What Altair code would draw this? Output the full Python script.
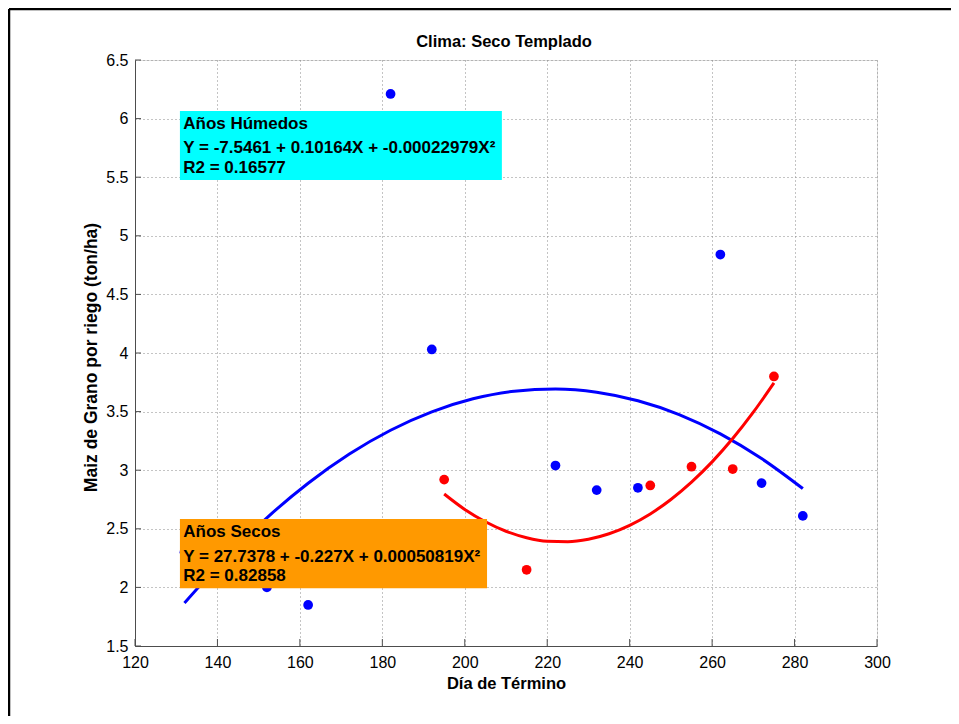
import altair as alt
import pandas as pd

FONT = "Liberation Sans"

# ---- data ----
blue_x = [132, 152, 162, 182, 192, 222, 232, 242, 262, 272, 282]
blue_y = [2.30, 2.00, 1.85, 6.21, 4.03, 3.04, 2.83, 2.85, 4.84, 2.89, 2.61]

red_x = [195, 215, 245, 255, 265, 275]
red_y = [2.92, 2.15, 2.87, 3.03, 3.01, 3.80]

blue_fit_x = [132, 142, 152, 162, 172, 182, 192, 202, 212, 222, 232, 242, 252, 262, 272, 282]
blue_fit_y = [1.867, 2.253, 2.594, 2.889, 3.138, 3.341, 3.498, 3.609, 3.674, 3.693, 3.666,
              3.593, 3.475, 3.310, 3.099, 2.843]

red_fit_x = [195, 200, 205, 210, 215, 220, 225, 230, 235, 240, 245, 250, 255, 260, 265, 270, 275]
red_fit_y = [2.797, 2.665, 2.560, 2.479, 2.424, 2.394, 2.390, 2.411, 2.458, 2.530, 2.627,
             2.750, 2.898, 3.071, 3.270, 3.495, 3.745]

x_ticks = [120, 140, 160, 180, 200, 220, 240, 260, 280, 300]
y_ticks = [1.5, 2, 2.5, 3, 3.5, 4, 4.5, 5, 5.5, 6, 6.5]

chart_title = "Clima: Seco Templado"
x_title = "Día de Término"
y_title = "Maiz de Grano por riego (ton/ha)"

box_names = ["Años Húmedos", "Años Secos"]
box_x0 = [130.9, 130.9]
box_x1 = [209.0, 205.4]
box_y0 = [5.476, 1.992]
box_y1 = [6.065, 2.584]
box_colors = ["#00FFFF", "#FF9900"]

text_lines = [
    "Años Húmedos",
    "Y = -7.5461 + 0.10164X + -0.00022979X²",
    "R2 = 0.16577",
    "Años Secos",
    "Y = 27.7378 + -0.227X + 0.00050819X²",
    "R2 = 0.82858",
]
text_x = [131.7, 131.7, 131.7, 131.7, 131.7, 131.7]
text_y = [5.911, 5.706, 5.536, 2.433, 2.214, 2.057]

# ---- tables ----
pts = pd.DataFrame({
    "x": blue_x + red_x,
    "y": blue_y + red_y,
    "g": ["h"] * len(blue_x) + ["s"] * len(red_x),
})
fits = pd.DataFrame({
    "x": blue_fit_x + red_fit_x,
    "y": blue_fit_y + red_fit_y,
    "g": ["h"] * len(blue_fit_x) + ["s"] * len(red_fit_x),
})
boxes = pd.DataFrame({"name": box_names, "x0": box_x0, "x1": box_x1,
                      "y0": box_y0, "y1": box_y1, "c": box_colors})
texts = pd.DataFrame({"t": text_lines, "x": text_x, "y": text_y})
xt = pd.DataFrame({"x": x_ticks})
yt = pd.DataFrame({"y": y_ticks})

xs = alt.Scale(domain=[120, 300], nice=False, zero=False)
ys = alt.Scale(domain=[1.5, 6.5], nice=False, zero=False)
col = alt.Scale(domain=["h", "s"], range=["#0000FF", "#FF0000"])

x_axis = alt.Axis(values=x_ticks, title=x_title, titleFont=FONT, titleFontSize=16.5,
                  titleFontWeight="bold", titleColor="black", titleY=42, titleBaseline="alphabetic",
                  labelFont=FONT, labelFontSize=16, labelColor="black", labelPadding=8,
                  ticks=False, domainColor="#4d4d4d", domainWidth=1,
                  grid=True, gridDash=[1, 3], gridColor="#888888", gridWidth=1, labelFlush=False)
y_axis = alt.Axis(values=y_ticks, format=".1~f", title=y_title,
                  titleFont=FONT, titleFontSize=17.5, titleFontWeight="bold", titleColor="black",
                  titleAngle=270, titleX=-39, titleY=297, titleBaseline="alphabetic", titleAlign="center",
                  labelFont=FONT, labelFontSize=16, labelColor="black", labelPadding=7,
                  ticks=False, domainColor="#4d4d4d", domainWidth=1,
                  grid=True, gridDash=[1, 3], gridColor="#888888", gridWidth=1, labelFlush=False)

X = alt.X("x:Q", scale=xs, axis=x_axis)
Y = alt.Y("y:Q", scale=ys, axis=y_axis)

one = pd.DataFrame({"k": [0]})

frame_top = alt.Chart(one).mark_rule(color="black", strokeWidth=2.5).encode(
    x=alt.value(-126), x2=alt.value(820), y=alt.value(-51))
frame_left = alt.Chart(one).mark_rule(color="black", strokeWidth=2.5).encode(
    x=alt.value(-126), y=alt.value(-51), y2=alt.value(660))
title_mark = alt.Chart(pd.DataFrame({"t": [chart_title]})).mark_text(
    font=FONT, fontSize=16.5, fontWeight="bold", color="black", align="center",
    baseline="alphabetic").encode(x=alt.value(369), y=alt.value(-13), text="t:N")

points = alt.Chart(pts).mark_circle(size=95, opacity=1).encode(
    x=X, y=Y, color=alt.Color("g:N", scale=col, legend=None))

xtick_marks = alt.Chart(xt).mark_rule(color="#4d4d4d", strokeWidth=1).encode(
    x=alt.X("x:Q"), y=alt.value(586), y2=alt.value(579))
ytick_marks = alt.Chart(yt).mark_rule(color="#4d4d4d", strokeWidth=1).encode(
    y=alt.Y("y:Q"), x=alt.value(0), x2=alt.value(6))

lines = alt.Chart(fits).mark_line(strokeWidth=3, interpolate="monotone").encode(
    x=alt.X("x:Q"), y=alt.Y("y:Q"),
    color=alt.Color("g:N", scale=col, legend=None), detail="g:N")

rects = alt.Chart(boxes).mark_rect(opacity=1).encode(
    x=alt.X("x0:Q"), x2="x1:Q",
    y=alt.Y("y0:Q"), y2="y1:Q",
    color=alt.Color("c:N", scale=None))

labels = alt.Chart(texts).mark_text(align="left", baseline="alphabetic", font=FONT,
                                    fontSize=17, fontWeight="bold", color="black").encode(
    x=alt.X("x:Q"), y=alt.Y("y:Q"), text="t:N")

chart = alt.layer(
    points, xtick_marks, ytick_marks, lines, rects, labels, frame_top, frame_left, title_mark
).properties(
    width=742, height=586,
    autosize=alt.AutoSizeParams(type="none"),
    padding={"left": 127, "top": 52, "right": 74, "bottom": 70},
).resolve_scale(color="independent").configure_view(stroke=None).configure(background="white")

chart.save("out.html", embed_options={"renderer": "svg", "actions": False})
